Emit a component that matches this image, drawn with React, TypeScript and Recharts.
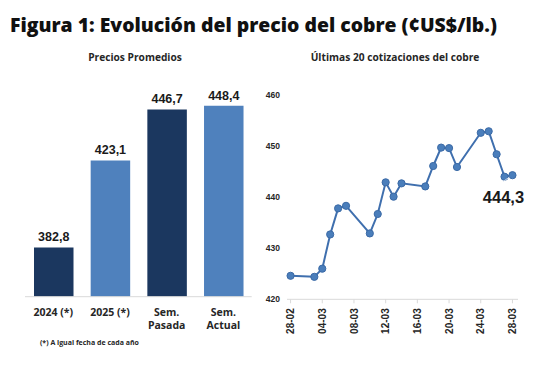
import React from "react";
import { BarChart, Bar, XAxis, YAxis, Cell, LabelList, LineChart, Line } from "recharts";

const title = "Figura 1: Evolución del precio del cobre (¢US$/lb.)";
const leftTitle = "Precios Promedios";
const rightTitle = "Últimas 20 cotizaciones del cobre";
const footnote = "(*) A igual fecha de cada año";

const barCategories = ["2024 (*)", "2025 (*)", "Sem. Pasada", "Sem. Actual"];
const barValues = [382.8, 423.1, 446.7, 448.4];
const barColors = ["#1b375f", "#4f81bd", "#1b375f", "#4f81bd"];

const quoteDates = [
  "28-02", "03-03", "04-03", "05-03", "06-03", "07-03", "10-03", "11-03", "12-03", "13-03",
  "14-03", "17-03", "18-03", "19-03", "20-03", "21-03", "24-03", "25-03", "26-03", "27-03", "28-03",
];
const quoteValues = [
  424.6, 424.4, 426.0, 432.7, 437.8, 438.3, 432.9, 436.7, 442.9, 440.1,
  442.7, 442.1, 446.1, 449.7, 449.6, 445.9, 452.6, 452.9, 448.4, 444.0, 444.3,
];
const dateTicks = ["28-02", "04-03", "08-03", "12-03", "16-03", "20-03", "24-03", "28-03"];
const yTicks = [420, 430, 440, 450, 460];

const toDay = (s: string) => {
  const [d, m] = s.split("-").map(Number);
  return Date.UTC(2025, m - 1, d) / 86400000;
};
const baseDay = toDay(quoteDates[0]);
const dayOf = (s: string) => toDay(s) - baseDay;

const barData = barCategories.map((c, i) => ({ cat: c, value: barValues[i] }));
const lineData = quoteDates.map((d, i) => ({ day: dayOf(d), value: quoteValues[i] }));
const tickDays = dateTicks.map(dayOf);
const dayLabel: Record<number, string> = {};
dateTicks.forEach((t) => (dayLabel[dayOf(t)] = t));

const fmt = (v: number) => v.toFixed(1).replace(".", ",");

const CatTick = (props: any) => {
  const { x, y, payload } = props;
  const v: string = payload.value;
  const lines = v.startsWith("Sem.") ? ["Sem.", v.slice(5)] : [v];
  return (
    <g>
      {lines.map((l, i) => (
        <text
          key={i}
          x={x}
          y={y + 11 + i * 13.5}
          textAnchor="middle"
          fontFamily="'Open Sans', sans-serif"
          fontWeight={700}
          fontSize={10.5}
          fill="#262626"
        >
          {l}
        </text>
      ))}
    </g>
  );
};

const DateTick = (props: any) => {
  const { x, y, payload } = props;
  return (
    <text
      x={0}
      y={0}
      transform={`translate(${x},${y + 3}) rotate(-90)`}
      textAnchor="end"
      dy="0.36em"
      fontFamily="'Liberation Sans', Arial, sans-serif"
      fontWeight={700}
      fontSize={10}
      fill="#262626"
    >
      {dayLabel[payload.value]}
    </text>
  );
};

const LastLabel = (props: any) => {
  const { x, y, index, value } = props;
  if (index !== quoteValues.length - 1) return null;
  return (
    <g>
      <line x1={x - 3} y1={y + 2} x2={x - 9} y2={y + 6} stroke="#c9d5e6" strokeWidth={1} />
      <text
        x={x - 9}
        y={y + 28}
        textAnchor="middle"
        fontFamily="'Liberation Sans', Arial, sans-serif"
        fontWeight={700}
        fontSize={16.5}
        fill="#1a1a1a"
      >
        {fmt(value)}
      </text>
    </g>
  );
};

export default function App() {
  return (
    <div style={{ position: "absolute", left: 0, top: 0, width: 558, height: 385, background: "#fff", overflow: "hidden" }}>
      <div
        style={{
          position: "absolute",
          left: 10,
          top: 12,
          fontFamily: "'Open Sans', sans-serif",
          fontWeight: 800,
          fontSize: 19.4,
          color: "#111",
          whiteSpace: "nowrap",
          lineHeight: "26px",
        }}
      >
        {title}
      </div>
      <div
        style={{
          position: "absolute",
          left: 0,
          width: 270,
          top: 49,
          textAlign: "center",
          fontFamily: "'Open Sans', sans-serif",
          fontWeight: 700,
          fontSize: 10.2,
          color: "#262626",
          lineHeight: "16px",
        }}
      >
        {leftTitle}
      </div>
      <div
        style={{
          position: "absolute",
          left: 260,
          width: 270,
          top: 49,
          textAlign: "center",
          fontFamily: "'Open Sans', sans-serif",
          fontWeight: 700,
          fontSize: 10.2,
          color: "#262626",
          lineHeight: "16px",
        }}
      >
        {rightTitle}
      </div>
      <div
        style={{
          position: "absolute",
          left: 40,
          top: 337,
          fontFamily: "'Open Sans', sans-serif",
          fontWeight: 700,
          fontSize: 7,
          color: "#262626",
          lineHeight: "12px",
        }}
      >
        {footnote}
      </div>

      <div style={{ position: "absolute", left: 0, top: 0 }}>
        <BarChart width={270} height={385} data={barData} margin={{ top: 80.7, right: 18.3, bottom: 58.3, left: 25 }}>
          <XAxis
            dataKey="cat"
            height={30}
            axisLine={{ stroke: "#d9d9d9" }}
            tickLine={false}
            tick={<CatTick />}
            interval={0}
          />
          <YAxis hide domain={[360, 460]} type="number" allowDataOverflow />
          <Bar dataKey="value" barSize={39.5} isAnimationActive={false}>
            {barData.map((_, i) => (
              <Cell key={i} fill={barColors[i]} />
            ))}
            <LabelList
              dataKey="value"
              position="top"
              offset={6}
              formatter={(v: any) => fmt(Number(v))}
              style={{ fontFamily: "'Liberation Sans', Arial, sans-serif", fontWeight: 700, fontSize: 12.5, fill: "#1a1a1a" }}
            />
          </Bar>
        </BarChart>
      </div>

      <div style={{ position: "absolute", left: 255, top: 0 }}>
        <LineChart width={303} height={385} data={lineData} margin={{ top: 95, right: 40, bottom: 45.7, left: 2 }}>
          <XAxis
            dataKey="day"
            type="number"
            domain={[-0.45, 28.7]}
            ticks={tickDays}
            height={40}
            axisLine={{ stroke: "#d9d9d9" }}
            tickLine={{ stroke: "#d9d9d9" }}
            tickSize={4}
            tick={<DateTick />}
            interval={0}
          />
          <YAxis
            type="number"
            domain={[420, 460]}
            ticks={yTicks}
            width={30}
            axisLine={false}
            tickLine={false}
            tickSize={0}
            tickMargin={7}
            tick={{ fontFamily: "'Liberation Sans', Arial, sans-serif", fontWeight: 700, fontSize: 8.5, fill: "#262626" }}
          />
          <Line
            dataKey="value"
            stroke="#3f6fae"
            strokeWidth={2}
            dot={{ r: 3.6, fill: "#4a7ebb", stroke: "#3b6aa6", strokeWidth: 1 }}
            isAnimationActive={false}
          >
            <LabelList dataKey="value" content={<LastLabel />} />
          </Line>
        </LineChart>
      </div>
    </div>
  );
}
